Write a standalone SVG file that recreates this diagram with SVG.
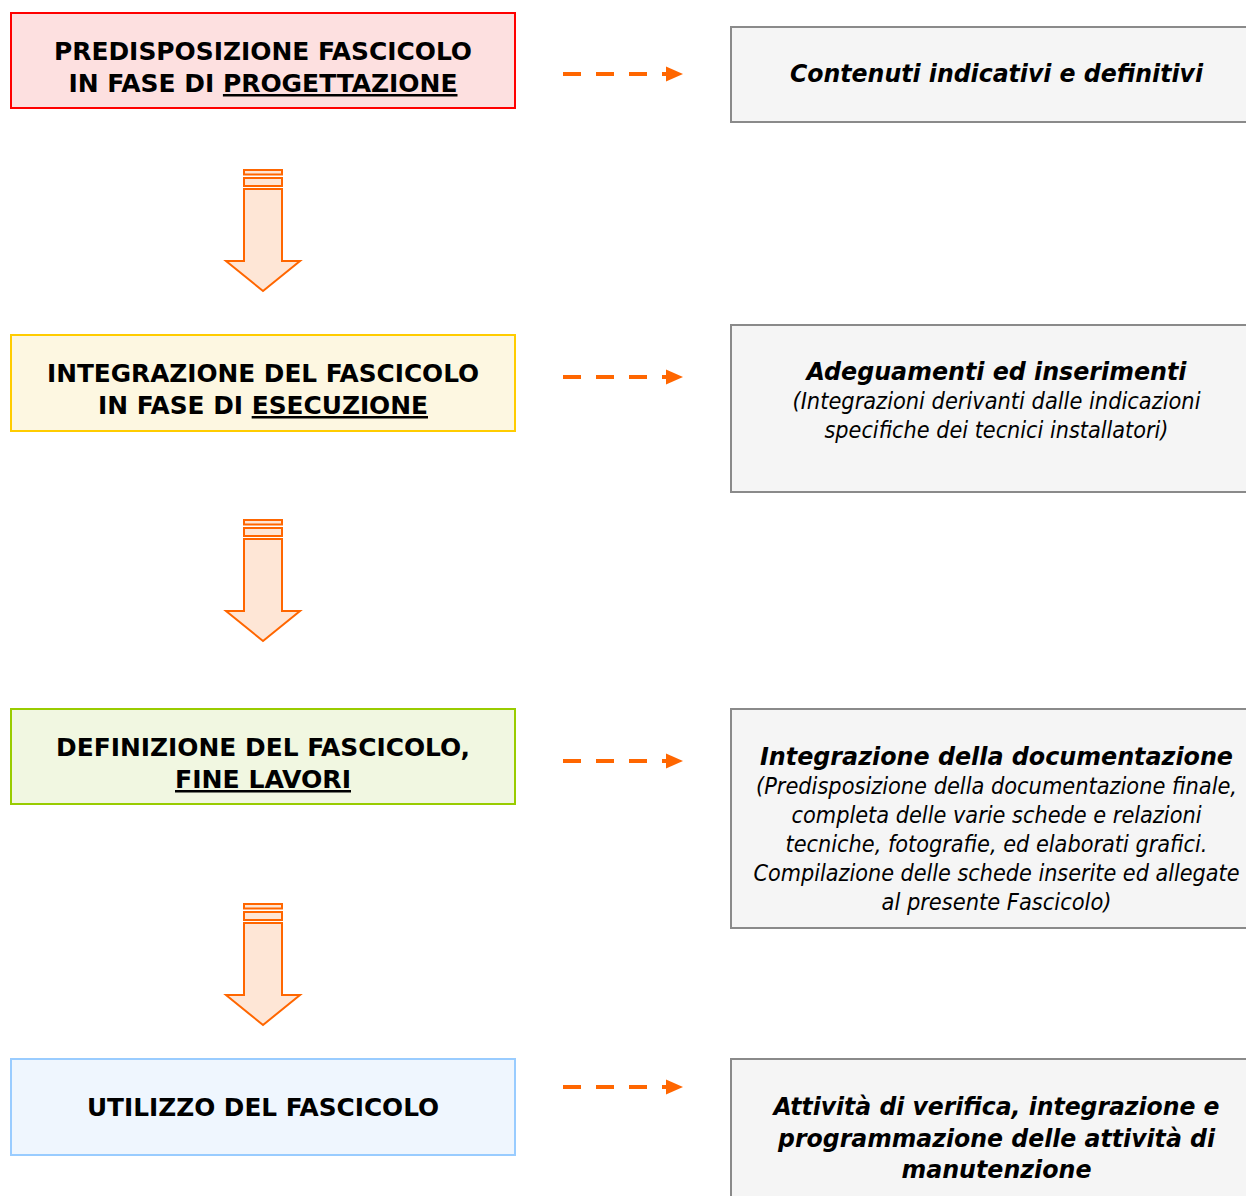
<svg xmlns="http://www.w3.org/2000/svg" width="1246" height="1196" viewBox="0 0 1246 1196">
  <defs>
    <style>
      .phase { stroke-width: 2; }
      .note { fill: #f5f5f5; stroke: #8a8a8a; stroke-width: 2; }
      .ph-text { font-family: "DejaVu Sans Condensed", "DejaVu Sans", sans-serif; font-weight: bold; font-size: 25px; fill: #000; text-anchor: middle; }
      .nt-head { font-family: "DejaVu Sans Condensed", "DejaVu Sans", sans-serif; font-weight: bold; font-style: italic; font-size: 25px; fill: #000; text-anchor: middle; }
      .nt-body { font-family: "DejaVu Sans Condensed", "DejaVu Sans", sans-serif; font-style: italic; font-size: 23px; fill: #000; text-anchor: middle; }
      .u { text-decoration: underline; }
      .dash { stroke: #ff6600; stroke-width: 4; stroke-dasharray: 18 15; fill: none; }
      .tip { fill: #ff6600; }
      .flow { fill: #fee6d6; stroke: #ff6600; stroke-width: 2; }
    </style>
    <g id="down-arrow">
      <rect x="244" y="170" width="38" height="4.5" class="flow"/>
      <rect x="244" y="178" width="38" height="8" class="flow"/>
      <path d="M244,189 L282,189 L282,261 L300,261 L263,291 L226,261 L244,261 Z" class="flow"/>
    </g>
  </defs>

  <rect width="1246" height="1196" fill="#ffffff"/>

  <!-- connectors: block arrows between phases and dashed links to notes -->
  <g id="connectors">
    <use href="#down-arrow"/>
    <use href="#down-arrow" transform="translate(0,350)"/>
    <use href="#down-arrow" transform="translate(0,734)"/>

    <line x1="563" y1="74" x2="668" y2="74" class="dash"/>
    <polygon points="666,66.5 683,74 666,81.5" class="tip"/>
    <line x1="563" y1="377" x2="668" y2="377" class="dash"/>
    <polygon points="666,369.5 683,377 666,384.5" class="tip"/>
    <line x1="563" y1="761" x2="668" y2="761" class="dash"/>
    <polygon points="666,753.5 683,761 666,768.5" class="tip"/>
    <line x1="563" y1="1087" x2="668" y2="1087" class="dash"/>
    <polygon points="666,1079.5 683,1087 666,1094.5" class="tip"/>
  </g>

  <!-- phase boxes -->
  <g id="phase-progettazione">
    <rect x="11" y="13" width="504" height="95" class="phase" fill="#fde0e0" stroke="#ff0000"/>
    <text x="263" y="60" class="ph-text" textLength="418" lengthAdjust="spacingAndGlyphs">PREDISPOSIZIONE FASCICOLO</text>
    <text x="263" y="92" class="ph-text" textLength="389" lengthAdjust="spacingAndGlyphs">IN FASE DI <tspan class="u">PROGETTAZIONE</tspan></text>
  </g>

  <g id="phase-esecuzione">
    <rect x="11" y="335" width="504" height="96" class="phase" fill="#fdf7e1" stroke="#ffcc00"/>
    <text x="263" y="382" class="ph-text" textLength="432" lengthAdjust="spacingAndGlyphs">INTEGRAZIONE DEL FASCICOLO</text>
    <text x="263" y="414" class="ph-text" textLength="330" lengthAdjust="spacingAndGlyphs">IN FASE DI <tspan class="u">ESECUZIONE</tspan></text>
  </g>

  <g id="phase-fine-lavori">
    <rect x="11" y="709" width="504" height="95" class="phase" fill="#f1f7e1" stroke="#99cc00"/>
    <text x="263" y="756" class="ph-text" textLength="414" lengthAdjust="spacingAndGlyphs">DEFINIZIONE DEL FASCICOLO,</text>
    <text x="263" y="788" class="ph-text u" textLength="176" lengthAdjust="spacingAndGlyphs">FINE LAVORI</text>
  </g>

  <g id="phase-utilizzo">
    <rect x="11" y="1059" width="504" height="96" class="phase" fill="#eff6fe" stroke="#99ccff"/>
    <text x="263" y="1116" class="ph-text" textLength="352" lengthAdjust="spacingAndGlyphs">UTILIZZO DEL FASCICOLO</text>
  </g>

  <!-- note boxes -->
  <g id="note-contenuti">
    <rect x="731" y="27" width="531" height="95" class="note"/>
    <text x="996.5" y="82" class="nt-head" textLength="413" lengthAdjust="spacingAndGlyphs">Contenuti indicativi e definitivi</text>
  </g>

  <g id="note-adeguamenti">
    <rect x="731" y="325" width="531" height="167" class="note"/>
    <text x="996.5" y="380" class="nt-head" textLength="380" lengthAdjust="spacingAndGlyphs">Adeguamenti ed inserimenti</text>
    <text x="996.5" y="409" class="nt-body" textLength="408" lengthAdjust="spacingAndGlyphs">(Integrazioni derivanti dalle indicazioni</text>
    <text x="996.5" y="438" class="nt-body" textLength="344" lengthAdjust="spacingAndGlyphs">specifiche dei tecnici installatori)</text>
  </g>

  <g id="note-documentazione">
    <rect x="731" y="709" width="531" height="219" class="note"/>
    <text x="996.5" y="765" class="nt-head" textLength="473" lengthAdjust="spacingAndGlyphs">Integrazione della documentazione</text>
    <text x="996.5" y="794" class="nt-body" textLength="481" lengthAdjust="spacingAndGlyphs">(Predisposizione della documentazione finale,</text>
    <text x="996.5" y="823" class="nt-body" textLength="410" lengthAdjust="spacingAndGlyphs">completa delle varie schede e relazioni</text>
    <text x="996.5" y="852" class="nt-body" textLength="422" lengthAdjust="spacingAndGlyphs">tecniche, fotografie, ed elaborati grafici.</text>
    <text x="996.5" y="881" class="nt-body" textLength="486" lengthAdjust="spacingAndGlyphs">Compilazione delle schede inserite ed allegate</text>
    <text x="996.5" y="910" class="nt-body" textLength="230" lengthAdjust="spacingAndGlyphs">al presente Fascicolo)</text>
  </g>

  <g id="note-manutenzione">
    <rect x="731" y="1059" width="531" height="160" class="note"/>
    <text x="996.5" y="1115" class="nt-head" textLength="446" lengthAdjust="spacingAndGlyphs">Attività di verifica, integrazione e</text>
    <text x="996.5" y="1147" class="nt-head" textLength="437" lengthAdjust="spacingAndGlyphs">programmazione delle attività di</text>
    <text x="996.5" y="1178" class="nt-head" textLength="190" lengthAdjust="spacingAndGlyphs">manutenzione</text>
  </g>
</svg>
